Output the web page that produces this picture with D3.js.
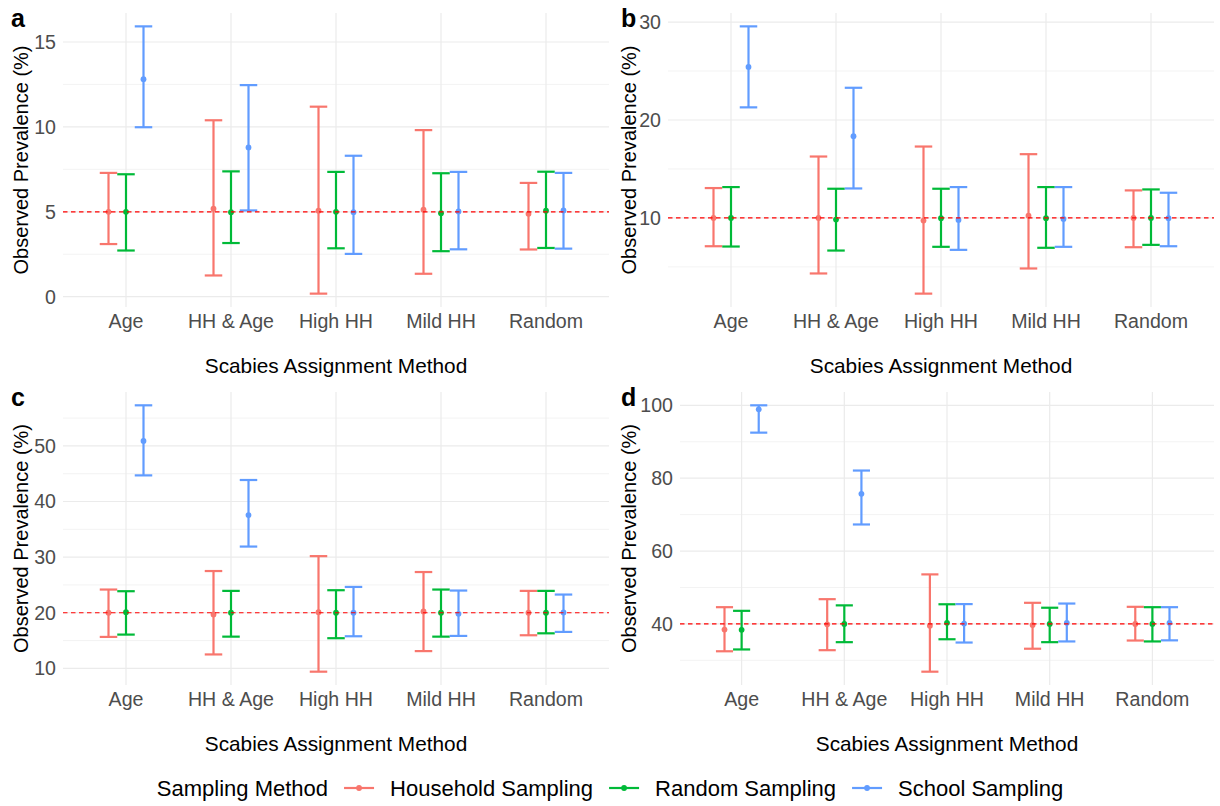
<!DOCTYPE html>
<html>
<head>
<meta charset="utf-8">
<script src="https://cdn.jsdelivr.net/npm/d3@7"></script>
<style>
  body { margin: 0; background: #fff; }
  text { font-family: "Liberation Sans", Arial, Helvetica, sans-serif; }
</style>
</head>
<body>
<script>
// categories and series
const methods = ["Age", "HH & Age", "High HH", "Mild HH", "Random"];
const samplers = ["Household Sampling", "Random Sampling", "School Sampling"];
const samplerColors = ["#F8766D", "#00BA38", "#619CFF"];
const panelTags = ["a", "b", "c", "d"];
const truePrev = [5, 10, 20, 40];
const yTicks = [[0, 5, 10, 15], [10, 20, 30], [10, 20, 30, 40, 50], [40, 60, 80, 100]];

// panel a (rows = sampler, columns = method)
const estA = [[5.0, 5.18, 5.06, 5.12, 4.88], [5.0, 4.98, 5.0, 4.92, 5.06], [12.81, 8.79, 4.98, 5.02, 5.08]];
const lowA = [[3.10, 1.25, 0.18, 1.35, 2.78], [2.72, 3.16, 2.85, 2.68, 2.87], [9.98, 5.08, 2.52, 2.79, 2.83]];
const highA = [[7.29, 10.39, 11.19, 9.81, 6.70], [7.21, 7.38, 7.35, 7.27, 7.36], [15.92, 12.46, 8.30, 7.35, 7.29]];

// panel b
const estB = [[10.0, 10.0, 9.73, 10.23, 10.0], [10.0, 9.83, 9.97, 9.97, 10.0], [25.42, 18.34, 9.8, 9.9, 9.97]];
const lowB = [[7.11, 4.33, 2.27, 4.84, 7.01], [7.08, 6.67, 7.05, 6.95, 7.25], [21.29, 13.01, 6.74, 7.05, 7.11]];
const highB = [[13.05, 16.27, 17.29, 16.51, 12.81], [13.15, 12.98, 12.98, 13.15, 12.91], [29.56, 23.29, 13.15, 13.15, 12.57]];

// panel c
const estC = [[20.0, 19.7, 20.1, 20.24, 20.0], [20.1, 20.0, 20.0, 20.0, 20.0], [50.9, 37.56, 20.0, 19.8, 20.05]];
const lowC = [[15.65, 12.5, 9.4, 13.1, 15.95], [16.07, 15.7, 15.42, 15.7, 16.3], [44.7, 31.9, 15.77, 15.83, 16.55]];
const highC = [[24.17, 27.5, 30.18, 27.32, 23.93], [23.87, 23.93, 24.05, 24.17, 23.93], [57.3, 43.87, 24.64, 23.99, 23.27]];

// panel d
const estD = [[38.45, 39.9, 39.5, 39.7, 40.0], [38.4, 40.0, 40.3, 40.0, 40.0], [98.9, 75.7, 40.1, 40.3, 40.3]];
const lowD = [[32.5, 32.8, 26.9, 33.2, 35.45], [33.0, 35.0, 35.8, 35.0, 35.2], [92.5, 67.3, 34.9, 35.2, 35.5]];
const highD = [[44.6, 46.8, 53.6, 45.8, 44.7], [43.6, 45.1, 45.4, 44.45, 44.6], [100.0, 82.1, 45.45, 45.6, 44.6]];

const panelEst = [estA, estB, estC, estD];
const panelLow = [lowA, lowB, lowC, lowD];
const panelHigh = [highA, highB, highC, highD];

// panel rectangles in page pixels
var layout = [
  { x: 63, y: 13, w: 546, h: 294, cellX: 0, cellY: 0, titleX: 28 },
  { x: 668, y: 13, w: 546, h: 294, cellX: 610, cellY: 0, titleX: 636 },
  { x: 63, y: 392, w: 546, h: 293, cellX: 0, cellY: 379, titleX: 28 },
  { x: 680, y: 392, w: 534, h: 293, cellX: 610, cellY: 379, titleX: 636 }
];

var W = 1220, H = 806;
var svg = d3.select("body").append("svg")
  .attr("width", W)
  .attr("height", H);

var tickFont = 19.6, titleFont = 20.8;

layout.forEach(function (p, i) {
  var est = panelEst[i], low = panelLow[i], high = panelHigh[i];

  // ggplot style 5% expansion of the data range
  var lo = d3.min(low.flat()), hi = d3.max(high.flat());
  var pad = (hi - lo) * 0.05;
  var y = d3.scaleLinear().domain([lo - pad, hi + pad]).range([p.y + p.h, p.y]);

  var x = d3.scalePoint().domain(methods).range([p.x, p.x + p.w]).padding(0.6);
  var unit = x.step();
  var dodge = d3.scalePoint().domain(samplers).range([-unit / 6, unit / 6]);
  var capHalf = unit / 12;

  var g = svg.append("g");

  // minor gridlines at midpoints
  var ticks = yTicks[i];
  var step = ticks[1] - ticks[0];
  var minors = [];
  for (var k = -1; k < ticks.length; k++) {
    var m = ticks[0] + step * k + step / 2;
    if (m >= y.domain()[0] && m <= y.domain()[1]) minors.push(m);
  }
  g.selectAll(".minor")
    .data(minors)
    .enter().append("line")
    .attr("x1", p.x).attr("x2", p.x + p.w)
    .attr("y1", d => y(d)).attr("y2", d => y(d))
    .attr("stroke", "#EBEBEB")
    .attr("stroke-width", 0.6);

  g.selectAll(".major")
    .data(ticks)
    .enter().append("line")
    .attr("x1", p.x).attr("x2", p.x + p.w)
    .attr("y1", d => y(d)).attr("y2", d => y(d))
    .attr("stroke", "#EBEBEB")
    .attr("stroke-width", 1.2);

  g.selectAll(".vgrid")
    .data(methods)
    .enter().append("line")
    .attr("x1", d => x(d)).attr("x2", d => x(d))
    .attr("y1", p.y).attr("y2", p.y + p.h)
    .attr("stroke", "#EBEBEB")
    .attr("stroke-width", 1.2);

  // y tick labels
  g.selectAll(".ylab")
    .data(ticks)
    .enter().append("text")
    .attr("x", p.x - 7)
    .attr("y", d => y(d))
    .attr("dy", "0.35em")
    .attr("text-anchor", "end")
    .attr("font-size", tickFont)
    .attr("fill", "#4D4D4D")
    .text(d => d);

  // x tick labels
  g.selectAll(".xlab")
    .data(methods)
    .enter().append("text")
    .attr("x", d => x(d))
    .attr("y", p.y + p.h + 21)
    .attr("text-anchor", "middle")
    .attr("font-size", tickFont)
    .attr("fill", "#4D4D4D")
    .text(d => d);

  // axis titles
  g.append("text")
    .attr("x", p.x + p.w / 2)
    .attr("y", p.y + p.h + 66)
    .attr("text-anchor", "middle")
    .attr("font-size", titleFont)
    .attr("fill", "#000")
    .text("Scabies Assignment Method");

  g.append("text")
    .attr("transform", "translate(" + p.titleX + "," + (p.y + p.h / 2) + ") rotate(-90)")
    .attr("text-anchor", "middle")
    .attr("font-size", titleFont - 0.8)
    .attr("fill", "#000")
    .text("Observed Prevalence (%)");

  // panel tag
  g.append("text")
    .attr("x", p.cellX + 11)
    .attr("y", p.cellY + 27)
    .attr("font-size", 25)
    .attr("font-weight", "bold")
    .attr("fill", "#000")
    .text(panelTags[i]);

  // error bars and points, one group per sampler
  samplers.forEach(function (s, si) {
    var rows = methods.map(function (mth, mi) {
      return { m: mth, est: est[si][mi], low: low[si][mi], high: high[si][mi] };
    });
    var col = samplerColors[si];
    var sg = g.append("g").attr("stroke", col).attr("stroke-width", 2.2).attr("fill", "none");

    sg.selectAll(".stem").data(rows).enter().append("line")
      .attr("x1", d => x(d.m) + dodge(s)).attr("x2", d => x(d.m) + dodge(s))
      .attr("y1", d => y(d.low)).attr("y2", d => y(d.high));
    sg.selectAll(".capTop").data(rows).enter().append("line")
      .attr("x1", d => x(d.m) + dodge(s) - capHalf).attr("x2", d => x(d.m) + dodge(s) + capHalf)
      .attr("y1", d => y(d.high)).attr("y2", d => y(d.high));
    sg.selectAll(".capBot").data(rows).enter().append("line")
      .attr("x1", d => x(d.m) + dodge(s) - capHalf).attr("x2", d => x(d.m) + dodge(s) + capHalf)
      .attr("y1", d => y(d.low)).attr("y2", d => y(d.low));

    g.selectAll(".pt" + si).data(rows).enter().append("circle")
      .attr("cx", d => x(d.m) + dodge(s))
      .attr("cy", d => y(d.est))
      .attr("r", 2.9)
      .attr("fill", col);
  });

  // reference line at the true prevalence
  g.append("line")
    .attr("x1", p.x).attr("x2", p.x + p.w)
    .attr("y1", y(truePrev[i])).attr("y2", y(truePrev[i]))
    .attr("stroke", "#FF0000")
    .attr("stroke-width", 1.2)
    .attr("stroke-dasharray", "4.5,3.5");
});

// legend along the bottom, centred
var legY = 788, legFont = 22, keyW = 30, gap = 16;
var leg = svg.append("g");
var title = leg.append("text")
  .attr("y", legY)
  .attr("dy", "0.35em")
  .attr("font-size", legFont)
  .attr("fill", "#000")
  .text("Sampling Method");
var cursor = title.node().getComputedTextLength() + gap;
samplers.forEach(function (s, si) {
  var it = leg.append("g");
  it.append("line")
    .attr("x1", cursor).attr("x2", cursor + keyW)
    .attr("y1", legY).attr("y2", legY)
    .attr("stroke", samplerColors[si]).attr("stroke-width", 2.2);
  it.append("circle")
    .attr("cx", cursor + keyW / 2).attr("cy", legY).attr("r", 2.9)
    .attr("fill", samplerColors[si]);
  var t = it.append("text")
    .attr("x", cursor + keyW + gap)
    .attr("y", legY)
    .attr("dy", "0.35em")
    .attr("font-size", legFont)
    .attr("fill", "#000")
    .text(s);
  cursor += keyW + gap + t.node().getComputedTextLength() + gap;
});
var legW = cursor - gap;
leg.attr("transform", "translate(" + (W / 2 - legW / 2) + ",0)");
</script>
</body>
</html>
